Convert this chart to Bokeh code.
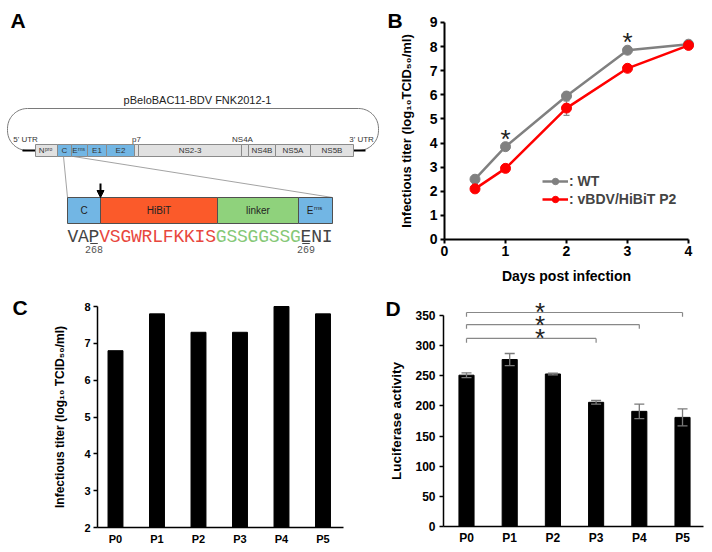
import numpy as np
from bokeh.plotting import figure
from bokeh.layouts import column, row
from bokeh.models import (Range1d, Whisker, ColumnDataSource, Legend,
                          LegendItem, Arrow, NormalHead, TeeHead, FixedTicker)
from bokeh.embed import file_html
from bokeh.resources import INLINE
from bokeh.core.properties import value

FONT = "Liberation Sans"
MONO = "Liberation Mono"

# ---------------- data ----------------
# Panel B: growth kinetics
days = [0.5, 1, 2, 3, 4]
wt_titer = [2.5, 3.85, 5.95, 7.85, 8.1]
wt_err = [0.15, 0.08, 0.15, 0.08, 0.05]
hibit_titer = [2.1, 2.95, 5.45, 7.1, 8.05]
hibit_err = [0.12, 0.08, 0.3, 0.06, 0.05]
b_sig_days = [1, 3]
b_sig_y = [4.4, 8.45]
b_xticks = [0, 1, 2, 3, 4]
b_yticks = [0, 1, 2, 3, 4, 5, 6, 7, 8, 9]

# Panel C: titers over passages
passages = ["P0", "P1", "P2", "P3", "P4", "P5"]
c_titer = [6.8, 7.8, 7.3, 7.3, 8.0, 7.8]
c_yticks = [2, 3, 4, 5, 6, 7, 8]

# Panel D: luciferase activity
d_luc = [251, 277, 253, 206, 191, 181]
d_err = [4, 10, 1.5, 3, 12, 14]
d_bracket_to = [5, 4, 3]
d_bracket_y = [355, 335, 312]
d_star_y = [366, 345, 323]
d_star_x = 1.7
d_yticks = [0, 50, 100, 150, 200, 250, 300, 350]

# Panel A: genome map
genes_main = ["N", "C", "E", "E1", "E2", "", "NS2-3", "", "NS4B", "NS5A", "NS5B"]
genes_sup = ["pro", "", "rns", "", "", "", "", "", "", "", ""]
gene_edges = [35, 57, 71, 87, 106, 134, 138, 241, 248, 275, 310, 353]
gene_colors = ["#e1e1e1", "#72b6e4", "#72b6e4", "#72b6e4", "#72b6e4", "#e1e1e1",
               "#e1e1e1", "#e1e1e1", "#e1e1e1", "#e1e1e1", "#e1e1e1"]
top_labels = ["5' UTR", "p7", "NS4A", "3' UTR"]
insert_main = ["C", "HiBiT", "linker", "E"]
insert_sup = ["", "", "", "rns"]
insert_edges = [67, 100, 217, 298, 332]
insert_colors = ["#72b6e4", "#fb5a2a", "#8fd27c", "#72b6e4"]
seq = "VAPVSGWRLFKKISGSSGGSSGENI"
seq_groups = [3, 11, 8, 3]
seq_group_colors = ["#444444", "#e8473d", "#86c877", "#444444"]
seq_marks = [2, 22]
seq_numbers = ["268", "269"]

TOP_H, BOT_H, LEFT_W, RIGHT_W = 290, 262, 384, 328


def base_fig(**kw):
    p = figure(output_backend="svg", toolbar_location=None, min_border=0, **kw)
    p.grid.visible = False
    p.outline_line_color = None
    p.background_fill_alpha = 0
    p.border_fill_alpha = 0
    return p


def style_axes(p, tick_size, label_size, lw=2):
    for ax in list(p.xaxis) + list(p.yaxis):
        ax.axis_line_width = lw
        ax.axis_line_color = "black"
        ax.major_tick_line_width = lw
        ax.major_tick_line_color = "black"
        ax.major_tick_in = 0
        ax.major_tick_out = 4
        ax.minor_tick_in = 0
        ax.minor_tick_out = 0
        ax.major_label_text_font = FONT
        ax.major_label_text_font_style = "bold"
        ax.major_label_text_font_size = tick_size
        ax.major_label_text_color = "black"
        ax.axis_label_text_font = FONT
        ax.axis_label_text_font_style = "bold"
        ax.axis_label_text_font_size = label_size
        ax.axis_label_text_color = "black"


def letter(p, x, y, t):
    p.text(x=[x], y=[y], text=[t], text_align="left", text_baseline="middle",
           text_font=value(FONT), text_font_style="bold", text_font_size="21px",
           text_color="black")


def txt(p, x, y, t, size, color="#333333", align="center", font=FONT):
    p.text(x=x, y=y, text=t, text_align=align, text_baseline="middle",
           text_font=value(font), text_font_size=size, text_color=color)


# ---------------- Panel A ----------------
pA = base_fig(width=LEFT_W, height=TOP_H, x_range=Range1d(0, LEFT_W), y_range=Range1d(TOP_H, 0),
              x_axis_location=None, y_axis_location=None)


def arc(cx, cy, r, a0, a1, n=20):
    t = np.radians(np.linspace(a0, a1, n))
    return list(cx + r * np.cos(t)), list(cy + r * np.sin(t))


L, R, T, G, rr = 7, 378, 108, 150, 20
xs, ys = [22], [G]
for (cx_, cy_, a0, a1) in [(L + rr, G - rr, 90, 180), (L + rr, T + rr, 180, 270),
                           (R - rr, T + rr, 270, 360), (R - rr, G - rr, 0, 90)]:
    ax_, ay_ = arc(cx_, cy_, rr, a0, a1)
    xs += ax_
    ys += ay_
xs.append(353); ys.append(G)
pA.line(xs, ys, line_color="#7a7a7a", line_width=1)
pA.segment(x0=[22, gene_edges[-1]], y0=[G, G], x1=[gene_edges[0], 365], y1=[G, G],
           line_color="black", line_width=1.8)

pA.quad(left=gene_edges[:-1], right=gene_edges[1:], top=G - 6, bottom=G + 6,
        fill_color=gene_colors, line_color="#8a8a8a", line_width=1)
centers = [(a + b) / 2 for a, b in zip(gene_edges[:-1], gene_edges[1:])]
m_x, m_t, s_x, s_t, p_x, p_t = [], [], [], [], [], []
for c, mtxt, stxt in zip(centers, genes_main, genes_sup):
    if stxt:
        m_x.append(c - 2); m_t.append(mtxt)
        s_x.append(c - 1.5); s_t.append(stxt)
    elif mtxt:
        p_x.append(c); p_t.append(mtxt)
txt(pA, p_x, [G] * len(p_x), p_t, "8px")
txt(pA, m_x, [G] * len(m_x), m_t, "8px", align="right")
txt(pA, s_x, [G - 2] * len(s_x), s_t, "5px", align="left")
txt(pA, [25, 136, 242, 361], [G - 11] * 4, top_labels, "8px")
txt(pA, [197], [99], ["pBeloBAC11-BDV FNK2012-1"], "11px", color="#222222")

# zoom lines
IT, IB = 197, 223
pA.segment(x0=[63, 73], y0=[G + 6, G + 6], x1=[insert_edges[0], insert_edges[-1]], y1=[IT, IT],
           line_color="#8c8c8c", line_width=0.8)

# insert
pA.quad(left=insert_edges[:-1], right=insert_edges[1:], top=IT, bottom=IB,
        fill_color=insert_colors, line_color="#505050", line_width=1)
icent = [(a + b) / 2 for a, b in zip(insert_edges[:-1], insert_edges[1:])]
IM = (IT + IB) / 2
for c, mtxt, stxt in zip(icent, insert_main, insert_sup):
    if stxt:
        txt(pA, [c - 2], [IM], [mtxt], "10px", color="#222222", align="right")
        txt(pA, [c - 1.5], [IM - 2.5], [stxt], "6px", color="#222222", align="left")
    else:
        txt(pA, [c], [IM], [mtxt], "10px", color="#222222")

pA.add_layout(Arrow(end=NormalHead(size=7, fill_color="black", line_color="black"),
                    x_start=insert_edges[1], y_start=IT - 14, x_end=insert_edges[1], y_end=IT,
                    line_width=2, line_color="black"))

# sequence
cw = (insert_edges[-1] - insert_edges[0]) / len(seq)
cols = []
for n, col in zip(seq_groups, seq_group_colors):
    cols += [col] * n
pA.text(x=[insert_edges[0] + (i + 0.5) * cw for i in range(len(seq))], y=[236] * len(seq),
        text=list(seq), text_color=cols, text_align="center", text_baseline="middle",
        text_font=value(MONO), text_font_size="18px")
pA.segment(x0=[insert_edges[0] + i * cw + 1.5 for i in seq_marks], y0=[243] * 2,
           x1=[insert_edges[0] + (i + 1) * cw - 1.5 for i in seq_marks], y1=[243] * 2,
           line_color="#444444", line_width=1.2)
txt(pA, [insert_edges[0] + (i + 0.5) * cw for i in seq_marks], [249, 249], seq_numbers,
    "10px", color="#555555", font=MONO)
letter(pA, 10, 20, "A")

# ---------------- Panel B ----------------
pB = base_fig(width=RIGHT_W, height=TOP_H, x_range=Range1d(-0.9836, 4.3934),
              y_range=Range1d(-2.1152, 9.9124))
style_axes(pB, "14px", "13px")
pB.xaxis.fixed_location = 0
pB.yaxis.fixed_location = 0
pB.xaxis.ticker = FixedTicker(ticks=b_xticks)
pB.yaxis.ticker = FixedTicker(ticks=b_yticks)
pB.xaxis.bounds = (0, 4)
pB.yaxis.bounds = (0, 9)
pB.xaxis.axis_label = "Days post infection"
pB.yaxis.axis_label = "Infectious titer (log\u2081\u2080TCID\u2085\u2080/ml)"
pB.xaxis.axis_label_text_font_size = "14px"
pB.xaxis.major_label_standoff = 3
pB.yaxis.major_label_standoff = 3
pB.xaxis.axis_label_standoff = 8
pB.yaxis.axis_label_standoff = 13

for ys_, es_ in [(wt_titer, wt_err), (hibit_titer, hibit_err)]:
    src = ColumnDataSource(dict(x=days, lo=[a - b for a, b in zip(ys_, es_)],
                                hi=[a + b for a, b in zip(ys_, es_)]))
    pB.add_layout(Whisker(source=src, base="x", lower="lo", upper="hi", line_color="#888888",
                          line_width=1.2,
                          upper_head=TeeHead(size=6, line_color="#888888", line_width=1.2),
                          lower_head=TeeHead(size=6, line_color="#888888", line_width=1.2)))
wl = pB.line(days, wt_titer, line_color="#808080", line_width=2.5)
ws = pB.scatter(days, wt_titer, size=10, fill_color="#808080", line_color="#808080")
hl = pB.line(days, hibit_titer, line_color="#ff0000", line_width=2.5)
hs = pB.scatter(days, hibit_titer, size=10, fill_color="#ff0000", line_color="#ff0000")
pB.text(x=b_sig_days, y=b_sig_y, text=["*"] * len(b_sig_days), text_align="center",
        text_baseline="middle", y_offset=6, text_font=value(FONT), text_font_size="26px",
        text_color="#222222")
leg = Legend(items=[LegendItem(label=": WT", renderers=[wl, ws]),
                    LegendItem(label=": vBDV/HiBiT P2", renderers=[hl, hs])],
             location=(158, 83), padding=0, margin=0, spacing=2, glyph_width=26, glyph_height=16,
             label_standoff=1, label_height=16, border_line_alpha=0, background_fill_alpha=0,
             label_text_font=FONT, label_text_font_style="bold", label_text_font_size="14px")
pB.add_layout(leg)
letter(pB, -0.934, 9.083, "B")

# ---------------- Panel C ----------------
cx = list(range(len(passages)))
pC = base_fig(width=LEFT_W, height=BOT_H, x_range=Range1d(-2.771, 6.482),
              y_range=Range1d(1.3213, 8.4344))
style_axes(pC, "11px", "12px", lw=1.5)
pC.vbar(x=cx, top=c_titer, bottom=2, width=0.36, fill_color="black", line_color="black")
pC.xaxis.fixed_location = 2
pC.yaxis.fixed_location = -0.4337
pC.xaxis.bounds = (-0.4337, 5.494)
pC.yaxis.bounds = (2, 8)
pC.xaxis.ticker = FixedTicker(ticks=cx)
pC.xaxis.major_label_overrides = {i: s for i, s in zip(cx, passages)}
pC.xaxis.major_tick_out = 0
pC.xaxis.major_label_standoff = 5
pC.yaxis.ticker = FixedTicker(ticks=c_yticks)
pC.yaxis.major_label_standoff = 3
pC.yaxis.axis_label = "Infectious titer (log\u2081\u2080 TCID\u2085\u2080/ml)"
pC.yaxis.axis_label_standoff = 14
letter(pC, -2.482, 7.986, "C")

# ---------------- Panel D ----------------
pD = base_fig(width=RIGHT_W, height=BOT_H, x_range=Range1d(-1.898, 5.694),
              y_range=Range1d(-43.13, 391.48))
style_axes(pD, "12px", "13.5px", lw=1.5)
pD.vbar(x=cx, top=d_luc, bottom=0, width=0.35, fill_color="black", line_color="black")
dsrc = ColumnDataSource(dict(x=cx, lo=[a - b for a, b in zip(d_luc, d_err)],
                             hi=[a + b for a, b in zip(d_luc, d_err)]))
pD.add_layout(Whisker(source=dsrc, base="x", lower="lo", upper="hi", line_color="#7a7a7a",
                      line_width=1.3, level="overlay",
                      upper_head=TeeHead(size=10, line_color="#7a7a7a", line_width=1.3),
                      lower_head=TeeHead(size=10, line_color="#7a7a7a", line_width=1.3)))
pD.xaxis.fixed_location = 0
pD.yaxis.fixed_location = -0.532
pD.xaxis.bounds = (-0.532, 5.486)
pD.yaxis.bounds = (0, 350)
pD.xaxis.ticker = FixedTicker(ticks=cx)
pD.xaxis.major_label_overrides = {i: s for i, s in zip(cx, passages)}
pD.xaxis.major_tick_out = 0
pD.xaxis.major_label_standoff = 5
pD.yaxis.ticker = FixedTicker(ticks=d_yticks)
pD.yaxis.major_label_standoff = 4
pD.yaxis.axis_label = "Luciferase activity"
pD.yaxis.axis_label_standoff = 8
nb = len(d_bracket_to)
pD.segment(x0=[0] * nb, x1=d_bracket_to, y0=d_bracket_y, y1=d_bracket_y,
           line_color="#888888", line_width=1.2)
pD.segment(x0=[0] * nb + d_bracket_to, x1=[0] * nb + d_bracket_to,
           y0=d_bracket_y * 2, y1=[y - 7 for y in d_bracket_y * 2],
           line_color="#888888", line_width=1.2)
pD.text(x=[d_star_x] * nb, y=d_star_y, text=["*"] * nb, text_align="center",
        text_baseline="middle", y_offset=6, text_font=value(FONT), text_font_size="26px",
        text_color="#222222")
letter(pD, -1.875, 362.4, "D")

layout = column(row(pA, pB), row(pC, pD))
open("out.html", "w").write(file_html(layout, INLINE))
